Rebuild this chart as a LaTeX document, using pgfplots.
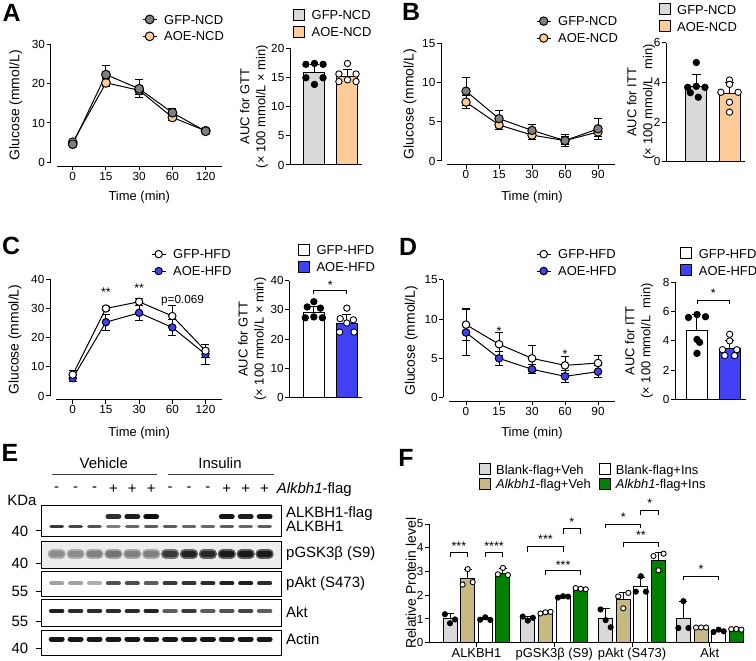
\documentclass[border=0pt]{standalone}
\usepackage{fontspec}
\setmainfont{Liberation Sans}
\usepackage{pgfplots}
\pgfplotsset{compat=1.18}

\definecolor{gfpgray}{RGB}{128,128,128}
\definecolor{aoeorange}{RGB}{255,204,153}
\definecolor{bargray}{RGB}{217,217,217}
\definecolor{aoeblue}{RGB}{64,64,245}
\definecolor{khakitan}{RGB}{200,185,130}
\definecolor{fgreen}{RGB}{0,128,0}

\newcommand{\fl}{\fontsize{13}{15}\selectfont}
\newcommand{\ft}{\fontsize{11.8}{13}\selectfont}

\tikzset{
  sig/.style={font=\fontsize{12.5}{12.5}\selectfont, inner sep=0pt, yshift=-2.5bp},
  brk/.style={line width=0.9bp, black},
  elab/.style={font=\fontsize{15}{15}\selectfont, inner sep=0pt},
  plab/.style={font=\fontsize{25}{25}\selectfont\bfseries, inner sep=0pt},
}

\pgfplotsset{
  colormap={blot}{gray(0cm)=(0.96); gray(1cm)=(0.05)},
  base/.style={
    scale only axis, clip=false,
    axis line style={line width=1bp, black},
    tick style={line width=1bp, black},
    major tick length=4bp,
    tick align=outside,
    /pgf/number format/assume math mode=true,
    tick label style={font=\ft, inner sep=1.5bp},
    legend cell align=left,
    legend style={font=\fl, draw=none, fill=none, inner sep=0pt, anchor=north west,
      nodes={inner sep=0pt, text height=9.3bp, text depth=0bp, font=\fl}},
  },
  linep/.style={base,
    axis lines*=left,
    x axis line style={shorten <=6bp},
    y axis line style={shorten <=4bp},
    xtick={0,1,2,3,4}, xmax=4.5,
    xlabel={\fl Time (min)}, ylabel={\fontsize{14}{16}\selectfont Glucose (mmol/L)},
    every axis y label/.style={rotate=90, anchor=center},
    every axis x label/.style={anchor=center},
    legend image code/.code={\draw[mark repeat=2,mark phase=2,##1] plot coordinates {(0bp,0bp) (7bp,0bp) (14bp,0bp)};},
    reverse legend,
    legend style={row sep=7.6bp, /tikz/every odd column/.append style={column sep=7bp}},
  },
  lplot/.style 2 args={black, line width=1bp, mark=*, mark size=#2,
    mark options={fill=#1, draw=black, line width=1bp},
    error bars/y dir=both, error bars/y explicit,
    error bars/error bar style={line width=1bp, black},
    error bars/error mark options={rotate=90, mark size=4bp, line width=1bp, black}},
  barp/.style={base,
    axis lines*=left, xtick=\empty, ymin=0,
    every axis y label/.style={rotate=90, anchor=center, align=center, font=\fontsize{13}{16}\selectfont},
    legend image code/.code={\draw[##1, line width=1bp, draw=black] (0bp,-5.5bp) rectangle (11bp,5.5bp);},
    legend style={row sep=5bp, /tikz/every odd column/.append style={column sep=6.7bp}},
  },
  bplot/.style={ybar, bar width=21bp, bar shift=0pt, fill=#1, draw=black, line width=1bp,
    error bars/y dir=plus, error bars/y explicit,
    error bars/error bar style={line width=1bp, black},
    error bars/error mark options={rotate=90, mark size=4.5bp, line width=1bp, black}},
  fbar/.style={ybar, bar width=14bp, bar shift=0pt, fill=#1, draw=black, line width=1bp,
    error bars/y dir=plus, error bars/y explicit,
    error bars/error bar style={line width=1bp, black},
    error bars/error mark options={rotate=90, mark size=4bp, line width=1bp, black}},
  dots/.style={only marks, mark=*, mark size=3.2bp, mark options={fill=#1, draw=black, line width=0.9bp}, forget plot},
  fdots/.style={only marks, mark=*, mark size=2.6bp, mark options={fill=#1, draw=black, line width=0.9bp}, forget plot},
  blot/.style={
    scale only axis, clip=false, width=240bp,
    xmin=0.206, xmax=12.905, ymin=0, ymax=1,
    xtick=\empty, ytick pos=left,
    axis line style={line width=1bp},
    tick style={line width=1bp, black},
    major tick length=6bp, tick align=outside,
    yticklabel style={font=\fontsize{15}{15}\selectfont, xshift=-3bp},
    colormap name=blot, point meta min=0, point meta max=1,
  },
  band/.style 2 args={scatter, only marks, mark=-, scatter src=explicit, mark size=#1,
    scatter/use mapped color={draw=mapped color, fill=mapped color},
    mark options={line width=#2, line cap=round}},
}

\begin{document}
\fl
\begin{tikzpicture}[font=\fl]
\useasboundingbox (0bp,0bp) rectangle (756bp,661bp);

% panel letters
\node[plab] at (11.7bp,648.5bp) {A};
\node[plab] at (411bp,649bp) {B};
\node[plab] at (11bp,415bp) {C};
\node[plab] at (408bp,414bp) {D};
\node[plab] at (10bp,208bp) {E};
\node[plab] at (406bp,203bp) {F};

% ---------------- A line
\begin{axis}[linep, at={(50.7bp,494.7bp)}, anchor=south west, width=171.6bp, height=122bp,
  xmin=-0.663, ymin=-1.017, ymax=30, ytick={0,10,20,30}, xticklabels={0,15,30,60,120},
  xlabel style={at={([yshift=-30.7bp]axis description cs:0.516,0)}},
  ylabel style={at={([xshift=-35bp]axis description cs:0,0.5)}},
  legend style={at={([xshift=91.3bp,yshift=151.7bp]axis description cs:0,0)}}]
\addplot[lplot={aoeorange}{4.4bp}] table[y error index=2] {
0 5.1 0.5
1 20.2 1.0
2 18.3 1.0
3 11.4 0.8
4 8.0 0.4
};
\addlegendentry{\fl AOE-NCD}
\addplot[lplot={gfpgray}{4.4bp}] table[y error index=2] {
0 4.6 0.5
1 22.3 2.4
2 18.7 2.3
3 12.6 1.0
4 7.9 0.5
};
\addlegendentry{\fl GFP-NCD}
\end{axis}

% ---------------- A bars
\begin{axis}[barp, at={(290bp,496bp)}, anchor=south west, width=72bp, height=116.7bp,
  xmin=-0.742, xmax=1.44, ymax=20, ytick={0,5,10,15,20},
  ylabel={\fl AUC for GTT\\\fl (× 100 mmol/L × min)},
  ylabel style={at={([xshift=-36bp]axis description cs:0,0.5)}},
  legend style={at={([xshift=2.8bp,yshift=156bp]axis description cs:0,0)}}]
\addplot[bplot=bargray] coordinates {(0,15.9) +- (0,1.4)};
\addlegendentry{\fl GFP-NCD}
\addplot[bplot=aoeorange] coordinates {(1,15.2) +- (0,1.1)};
\addlegendentry{\fl AOE-NCD}
\addplot[dots=black] coordinates {(-0.26,17.25) (0,17.4) (0.26,17.25) (-0.26,14.95) (0.26,14.95) (0,13.8)};
\addplot[dots=white] coordinates {(1,17.4) (0.74,15.6) (1.26,15.6) (0.74,14.3) (1,14.6) (1.26,14.3)};
\end{axis}

% ---------------- B line
\begin{axis}[linep, at={(441bp,496bp)}, anchor=south west, width=173.5bp, height=121.7bp,
  xmin=-0.758, ymin=-0.51, ymax=15, ytick={0,5,10,15}, xticklabels={0,15,30,60,90},
  xlabel style={at={([yshift=-32bp]axis description cs:0.5245,0)}},
  ylabel style={at={([xshift=-31bp]axis description cs:0,0.5)}},
  legend style={at={([xshift=95bp,yshift=148.7bp]axis description cs:0,0)}}]
\addplot[lplot={aoeorange}{4.2bp}] table[y error index=2] {
0 7.5 0.8
1 4.6 0.6
2 3.3 0.5
3 2.6 0.5
4 3.7 0.6
};
\addlegendentry{\fl AOE-NCD}
\addplot[lplot={gfpgray}{4.2bp}] table[y error index=2] {
0 8.9 1.8
1 5.4 1.0
2 3.9 0.7
3 2.6 0.8
4 4.1 1.3
};
\addlegendentry{\fl GFP-NCD}
\end{axis}

% ---------------- B bars
\begin{axis}[barp, at={(666bp,499.3bp)}, anchor=south west, width=79bp, height=119bp,
  xmin=-0.913, xmax=1.467, ymax=6, ytick={0,2,4,6},
  ylabel={\fl AUC for ITT\\\fl (× 100 mmol/L\ \ min)},
  ylabel style={at={([xshift=-25bp]axis description cs:0,0.5)}},
  legend style={at={([xshift=-7.7bp,yshift=158.4bp]axis description cs:0,0)}}]
\addplot[bplot=bargray] coordinates {(0,3.8) +- (0,0.6)};
\addlegendentry{\fl GFP-NCD}
\addplot[bplot=aoeorange] coordinates {(1,3.45) +- (0,0.55)};
\addlegendentry{\fl AOE-NCD}
\addplot[dots=black] coordinates {(0,5.0) (-0.26,3.75) (0,3.8) (0.26,3.75) (-0.18,3.48) (0.06,3.25)};
\addplot[dots=white] coordinates {(1,4.12) (1,3.9) (0.74,3.5) (1.26,3.5) (1,3.0) (1,2.5)};
\end{axis}

% ---------------- C line
\begin{axis}[linep, at={(50bp,261bp)}, anchor=south west, width=172.1bp, height=120.7bp,
  xmin=-0.684, ymin=-1.371, ymax=40, ytick={0,10,20,30,40}, xticklabels={0,15,30,60,120},
  xlabel style={at={([yshift=-33bp]axis description cs:0.518,0)}},
  ylabel style={at={([xshift=-35bp]axis description cs:0,0.5)}},
  legend style={at={([xshift=101bp,yshift=150.7bp]axis description cs:0,0)}}]
\addplot[lplot={aoeblue}{3.7bp}] table[y error index=2] {
0 6.1 1.0
1 25.3 2.7
2 28.5 2.5
3 23.5 2.8
4 14.3 3.4
};
\addlegendentry{\fl AOE-HFD}
\addplot[lplot={white}{3.7bp}] table[y error index=2] {
0 7.3 1.3
1 30.0 0.8
2 32.3 1.2
3 27.4 3.6
4 15.5 2.2
};
\addlegendentry{\fl GFP-HFD}
\node[sig] at (axis cs:1,36.5) {**};
\node[sig] at (axis cs:2,37.9) {**};
\node[font=\ft, inner sep=0pt] at (axis cs:3.31,32.6) {p=0.069};
\end{axis}

% ---------------- C bars
\begin{axis}[barp, at={(289.3bp,263.5bp)}, anchor=south west, width=72.7bp, height=116.8bp,
  xmin=-0.744, xmax=1.46, ymax=40, ytick={0,10,20,30,40},
  ylabel={\fl AUC for GTT\\\fl (× 100 mmol/L × min)},
  ylabel style={at={([xshift=-37bp]axis description cs:0,0.5)}},
  legend style={at={([xshift=8.4bp,yshift=153.5bp]axis description cs:0,0)}}]
\addplot[bplot=white] coordinates {(0,29.2) +- (0,1.8)};
\addlegendentry{\fl GFP-HFD}
\addplot[bplot=aoeblue] coordinates {(1,25.5) +- (0,2.9)};
\addlegendentry{\fl AOE-HFD}
\addplot[dots=black] coordinates {(0,32.8) (-0.2,31.0) (0.2,30.6) (-0.26,27.3) (0,27.6) (0.26,27.3)};
\addplot[dots=white] coordinates {(1,30.6) (0.8,27.0) (1.2,26.6) (1,25.5) (0.78,22.4) (1.22,22.4)};
\draw[brk] (axis cs:0,35.3) -- (axis cs:0,36.7) -- (axis cs:1,36.7) -- (axis cs:1,35.3);
\node[sig] at (axis cs:0.5,39.3) {*};
\end{axis}

% ---------------- D line
\begin{axis}[linep, at={(443.3bp,259.5bp)}, anchor=south west, width=171.2bp, height=121.5bp,
  xmin=-0.688, ymin=-0.511, ymax=15, ytick={0,5,10,15}, xticklabels={0,15,30,60,90},
  xlabel style={at={([yshift=-31.8bp]axis description cs:0.518,0)}},
  ylabel style={at={([xshift=-32bp]axis description cs:0,0.5)}},
  legend style={at={([xshift=92.7bp,yshift=152.2bp]axis description cs:0,0)}}]
\addplot[lplot={aoeblue}{3.8bp}] table[y error index=2] {
0 8.3 2.9
1 5.0 0.9
2 3.6 0.6
3 2.7 0.8
4 3.3 0.8
};
\addlegendentry{\fl AOE-HFD}
\addplot[lplot={white}{3.8bp}] table[y error index=2] {
0 9.3 2.0
1 6.8 1.5
2 5.0 1.7
3 4.1 1.1
4 4.4 0.9
};
\addlegendentry{\fl GFP-HFD}
\node[sig] at (axis cs:1,8.8) {*};
\node[sig] at (axis cs:3,5.9) {*};
\end{axis}

% ---------------- D bars
\begin{axis}[barp, at={(675bp,261.5bp)}, anchor=south west, width=71bp, height=117.2bp,
  xmin=-0.673, xmax=1.5, ymax=8, ytick={0,2,4,6,8},
  ylabel={\fl AUC for ITT\\\fl (× 100 mmol/L\ \ min)},
  ylabel style={at={([xshift=-36bp]axis description cs:0,0.5)}},
  legend style={at={([xshift=5bp,yshift=152.2bp]axis description cs:0,0)}}]
\addplot[bplot=white] coordinates {(0,4.7) +- (0,1.1)};
\addlegendentry{\fl GFP-HFD}
\addplot[bplot=aoeblue] coordinates {(1,3.45) +- (0,0.55)};
\addlegendentry{\fl AOE-HFD}
\addplot[dots=black] coordinates {(-0.26,5.6) (0,5.8) (0.26,5.65) (0,4.1) (0,3.15) (0.08,3.9)};
\addplot[dots=white] coordinates {(1,4.45) (1,4.0) (0.78,3.4) (1.22,3.4) (0.85,3.0) (1.15,3.0)};
\draw[brk] (axis cs:0,6.5) -- (axis cs:0,6.77) -- (axis cs:1,6.77) -- (axis cs:1,6.5);
\node[sig] at (axis cs:0.5,7.45) {*};
\end{axis}

% ---------------- E blots
\begin{axis}[blot, at={(41.7bp,124.3bp)}, anchor=south west, height=30.7bp, ytick={0.19}, yticklabels={40}]
\addplot[band={5.2bp}{5.5bp}] table[meta index=2] {
4 0.65 0.85
5 0.65 0.92
6 0.65 1.0
10 0.65 0.96
11 0.65 0.92
12 0.65 0.96
};
\addplot[band={5.7bp}{3.5bp}] table[meta index=2] {
1 0.33 0.8
2 0.33 0.75
3 0.33 0.7
4 0.33 0.5
5 0.33 0.6
6 0.33 0.65
7 0.33 0.65
8 0.33 0.6
9 0.33 0.6
10 0.33 0.65
11 0.33 0.6
12 0.33 0.65
};
\node[elab] at (axis cs:3.49,2.39) {Vehicle};
\node[elab] at (axis cs:9.64,2.39) {Insulin};
\draw[line width=0.8bp, black!75] (axis cs:0.735,2.04) -- (axis cs:6.29,2.04);
\draw[line width=0.8bp, black!75] (axis cs:6.87,2.04) -- (axis cs:12.5,2.04);
\node[elab] at (axis cs:1,1.544) {-};
\node[elab] at (axis cs:2,1.544) {-};
\node[elab] at (axis cs:3,1.544) {-};
\node[elab] at (axis cs:4,1.544) {+};
\node[elab] at (axis cs:5,1.544) {+};
\node[elab] at (axis cs:6,1.544) {+};
\node[elab] at (axis cs:7,1.544) {-};
\node[elab] at (axis cs:8,1.544) {-};
\node[elab] at (axis cs:9,1.544) {-};
\node[elab] at (axis cs:10,1.544) {+};
\node[elab] at (axis cs:11,1.544) {+};
\node[elab] at (axis cs:12,1.544) {+};
\node[elab, anchor=west] at (axis cs:12.64,1.544) {\textit{Alkbh1}-flag};
\node[elab] at (axis cs:-0.836,1.195) {KDa};
\node[elab, anchor=west] at ([xshift=4.3bp]axis description cs:1,0.76) {ALKBH1-flag};
\node[elab, anchor=west] at ([xshift=4.3bp]axis description cs:1,0.35) {ALKBH1};
\end{axis}

\begin{axis}[blot, at={(41.7bp,92.7bp)}, anchor=south west, height=26.6bp, ytick={0.19}, yticklabels={40},
  axis background/.style={fill=black!7}]
\addplot[band={4.2bp}{10bp}] table[meta index=2] {
1 0.54 0.3
2 0.54 0.3
3 0.54 0.33
4 0.54 0.36
5 0.54 0.33
6 0.54 0.33
7 0.54 0.55
8 0.54 0.62
9 0.54 0.62
10 0.54 0.66
11 0.54 0.66
12 0.54 0.66
};
\addplot[band={4.8bp}{5.5bp}] table[meta index=2] {
1 0.54 0.45
2 0.54 0.45
3 0.54 0.5
4 0.54 0.55
5 0.54 0.5
6 0.54 0.5
7 0.54 0.8
8 0.54 0.9
9 0.54 0.88
10 0.54 0.94
11 0.54 0.94
12 0.54 0.94
};
\node[elab, anchor=west] at ([xshift=4.3bp]axis description cs:1,0.54) {pGSK3β (S9)};
\end{axis}

\begin{axis}[blot, at={(41.7bp,64.3bp)}, anchor=south west, height=25bp, ytick={0.2}, yticklabels={55}]
\addplot[band={5.5bp}{4bp}] table[meta index=2] {
1 0.536 0.35
2 0.536 0.35
3 0.536 0.3
4 0.536 0.7
5 0.536 0.72
6 0.536 0.65
7 0.536 0.8
8 0.536 0.82
9 0.536 0.86
10 0.536 0.9
11 0.536 0.9
12 0.536 0.86
};
\node[elab, anchor=west] at ([xshift=4.3bp]axis description cs:1,0.51) {pAkt (S473)};
\end{axis}

\begin{axis}[blot, at={(41.7bp,34.3bp)}, anchor=south west, height=26.7bp, ytick={0.21}, yticklabels={55}]
\addplot[band={5.5bp}{4.5bp}] table[meta index=2] {
1 0.59 0.9
2 0.59 0.86
3 0.59 0.86
4 0.59 0.86
5 0.59 0.86
6 0.59 0.9
7 0.59 0.65
8 0.59 0.8
9 0.59 0.65
10 0.59 0.7
11 0.59 0.76
12 0.59 0.65
};
\node[elab, anchor=west] at ([xshift=4.3bp]axis description cs:1,0.56) {Akt};
\end{axis}

\begin{axis}[blot, at={(41.7bp,6bp)}, anchor=south west, height=25bp, ytick={0.27}, yticklabels={40}]
\addplot[band={5.5bp}{5bp}] table[meta index=2] {
1 0.64 0.95
2 0.64 0.95
3 0.64 0.94
4 0.64 0.94
5 0.64 0.95
6 0.64 0.95
7 0.64 0.94
8 0.64 0.95
9 0.64 0.95
10 0.64 0.94
11 0.64 0.95
12 0.64 0.94
};
\node[elab, anchor=west] at ([xshift=4.3bp]axis description cs:1,0.63) {Actin};
\end{axis}

% ---------------- F
\begin{axis}[base, at={(429bp,18.3bp)}, anchor=south west, width=314.3bp, height=118.7bp,
  axis lines*=left, xmin=-0.61, xmax=3.43, ymin=0, ymax=5, ytick={0,1,2,3,4,5},
  xtick={0,1,2,3}, xticklabels={\fl ALKBH1, \fl pGSK3β (S9), \fl pAkt (S473), \fl Akt},
  ylabel={\fontsize{14}{16}\selectfont Relative Protein level},
  every axis y label/.style={at={([xshift=-18bp]axis description cs:0,0.5)}, rotate=90, anchor=center},
  legend image code/.code={\draw[#1, line width=1bp, draw=black] (0bp,-5.5bp) rectangle (11bp,5.5bp);},
  legend columns=2, transpose legend,
  legend style={at={([xshift=50bp,yshift=179.4bp]axis description cs:0,0)}, row sep=2.4bp,
    /tikz/every odd column/.append style={column sep=5bp},
    /tikz/every even column/.append style={column sep=8bp}}]
\addplot[fbar=bargray] coordinates {(-0.34,1.0) +- (0,0.22) (0.66,1.02) +- (0,0.1) (1.66,1.0) +- (0,0.42) (2.66,1.0) +- (0,0.75)};
\addlegendentry{\fl Blank-flag+Veh}
\addplot[fbar=khakitan] coordinates {(-0.113,2.7) +- (0,0.38) (0.887,1.26) +- (0,0.05) (1.887,1.83) +- (0,0.3) (2.887,0.63) +- (0,0.02)};
\addlegendentry{\fl \textit{Alkbh1}-flag+Veh}
\addplot[fbar=white] coordinates {(0.113,1.0) +- (0,0.06) (1.113,1.93) +- (0,0.04) (2.113,2.37) +- (0,0.38) (3.113,0.48) +- (0,0.05)};
\addlegendentry{\fl Blank-flag+Ins}
\addplot[fbar=fgreen] coordinates {(0.34,2.93) +- (0,0.2) (1.34,2.27) +- (0,0.06) (2.34,3.47) +- (0,0.32) (3.34,0.55) +- (0,0.05)};
\addlegendentry{\fl \textit{Alkbh1}-flag+Ins}
\addplot[fdots=black] coordinates {(-0.405,1.2) (-0.34,0.82) (-0.275,0.98) (0.595,1.1) (0.66,0.93) (0.725,1.05) (1.595,1.4) (1.66,0.95) (1.725,0.65) (2.595,0.62) (2.66,1.75) (2.725,0.62)};
\addplot[fdots=white] coordinates {(-0.178,2.45) (-0.113,3.1) (-0.048,2.55) (0.822,1.23) (0.887,1.28) (0.952,1.3) (1.822,1.95) (1.887,1.45) (1.952,2.1) (2.822,0.64) (2.887,0.64) (2.952,0.64)};
\addplot[fdots=black] coordinates {(0.048,0.97) (0.113,1.07) (0.178,0.96) (1.048,1.9) (1.113,1.96) (1.178,1.94) (2.048,2.15) (2.113,2.8) (2.178,2.15) (3.048,0.45) (3.113,0.55) (3.178,0.48)};
\addplot[fdots=white] coordinates {(0.275,2.88) (0.34,3.15) (0.405,2.85) (1.275,2.3) (1.34,2.27) (1.405,2.25) (2.275,3.65) (2.34,3.05) (2.405,3.75) (3.275,0.57) (3.34,0.58) (3.405,0.55)};
% brackets
\draw[brk] (axis cs:-0.34,3.63) -- (axis cs:-0.34,3.8) -- (axis cs:-0.113,3.8) -- (axis cs:-0.113,3.63);
\node[sig] at (axis cs:-0.2265,4.17) {***};
\draw[brk] (axis cs:0.113,3.63) -- (axis cs:0.113,3.8) -- (axis cs:0.34,3.8) -- (axis cs:0.34,3.63);
\node[sig] at (axis cs:0.2265,4.17) {****};
\draw[brk] (axis cs:0.66,3.84) -- (axis cs:0.66,4.05) -- (axis cs:1.113,4.05) -- (axis cs:1.113,3.84);
\node[sig] at (axis cs:0.8865,4.47) {***};
\draw[brk] (axis cs:1.113,4.59) -- (axis cs:1.113,4.83) -- (axis cs:1.34,4.83) -- (axis cs:1.34,4.59);
\node[sig] at (axis cs:1.2265,5.18) {*};
\draw[brk] (axis cs:0.887,2.86) -- (axis cs:0.887,3.03) -- (axis cs:1.34,3.03) -- (axis cs:1.34,2.86);
\node[sig] at (axis cs:1.1135,3.38) {***};
\draw[brk] (axis cs:1.66,4.83) -- (axis cs:1.66,5.0) -- (axis cs:2.113,5.0) -- (axis cs:2.113,4.83);
\node[sig] at (axis cs:1.8865,5.39) {*};
\draw[brk] (axis cs:2.113,5.36) -- (axis cs:2.113,5.57) -- (axis cs:2.34,5.57) -- (axis cs:2.34,5.36);
\node[sig] at (axis cs:2.2265,5.98) {*};
\draw[brk] (axis cs:1.887,4.03) -- (axis cs:1.887,4.22) -- (axis cs:2.34,4.22) -- (axis cs:2.34,4.03);
\node[sig] at (axis cs:2.1135,4.62) {**};
\draw[brk] (axis cs:2.66,2.64) -- (axis cs:2.66,2.81) -- (axis cs:3.113,2.81) -- (axis cs:3.113,2.64);
\node[sig] at (axis cs:2.8865,3.2) {*};
\end{axis}

\end{tikzpicture}
\end{document}
